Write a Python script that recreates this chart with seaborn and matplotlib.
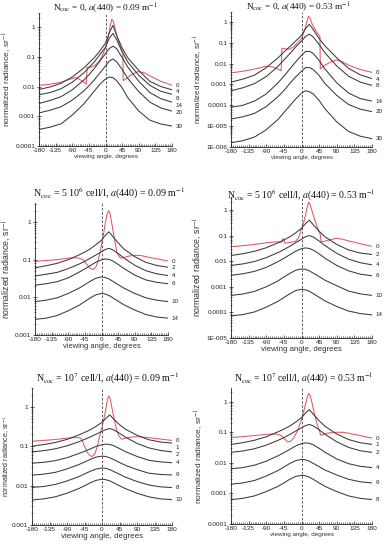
import numpy as np
import seaborn as sns
import matplotlib
matplotlib.use("Agg")
import matplotlib.pyplot as plt
from matplotlib.ticker import FixedLocator, FixedFormatter, MultipleLocator, LogLocator, NullFormatter

# angles where the black curves were read
ANG = [-180, -150, -120, -90, -60, -45, -30, -15, 0, 10, 20, 30, 45, 60, 90, 120, 150, 180]

# panel 1: Ncoc = 0, a = 0.09
p1_red_ang = [-180, -150, -120, -95, -80, -65, -55, -52, -50, -40, -30, -20, -10, 0, 5, 10, 14, 17, 21, 26,
              32, 40, 47, 48, 55, 70, 88, 105, 120, 150, 180]
p1_red = [0.011, 0.012, 0.014, 0.018, 0.02, 0.016, 0.013, 0.012, 0.045, 0.045, 0.05, 0.065, 0.1, 0.2, 0.35, 0.7,
          1.3, 1.85, 1.6, 0.9, 0.45, 0.22, 0.13, 0.016, 0.018, 0.025, 0.032, 0.029, 0.023, 0.015, 0.0112]
p1_b4 = [0.008, 0.0097, 0.013, 0.021, 0.041, 0.062, 0.095, 0.16, 0.29, 0.63, 1.15, 0.54, 0.2, 0.094, 0.035, 0.015, 0.01, 0.0078]
p1_b8 = [0.0053, 0.0063, 0.0085, 0.014, 0.028, 0.043, 0.069, 0.12, 0.21, 0.42, 0.62, 0.38, 0.15, 0.068, 0.024, 0.011, 0.0069, 0.0055]
p1_b14 = [0.0027, 0.0034, 0.0046, 0.0078, 0.016, 0.025, 0.041, 0.072, 0.13, 0.19, 0.23, 0.19, 0.096, 0.046, 0.015, 0.0063, 0.0039, 0.003]
p1_b20 = [0.0013, 0.0016, 0.0021, 0.0035, 0.0069, 0.0105, 0.017, 0.029, 0.049, 0.072, 0.085, 0.069, 0.038, 0.019, 0.0068, 0.003, 0.0019, 0.0015]
p1_b30 = [0.00036, 0.00043, 0.00056, 0.0011, 0.0025, 0.0042, 0.0072, 0.012, 0.018, 0.021, 0.02, 0.016, 0.0091, 0.0043, 0.0015, 0.00074, 0.00055, 0.00047]
p1_labels = ["0", "4", "8", "14", "20", "30"]

# panel 2: Ncoc = 0, a = 0.53
p2_red_ang = [-180, -150, -120, -90, -75, -60, -52, -50, -40, -30, -20, -10, 0, 5, 10, 14, 18, 22, 27, 34,
              42, 47, 48, 60, 75, 90, 105, 120, 150, 180]
p2_red = [0.0036, 0.0043, 0.0055, 0.0075, 0.007, 0.0055, 0.0045, 0.055, 0.05, 0.05, 0.065, 0.1, 0.16, 0.28, 0.55,
          1.1, 1.9, 1.5, 0.8, 0.45, 0.27, 0.2, 0.0055, 0.0085, 0.012, 0.015, 0.012, 0.0085, 0.0052, 0.0038]
p2_b4 = [0.0013, 0.0018, 0.0028, 0.0064, 0.019, 0.036, 0.065, 0.12, 0.23, 0.47, 0.77, 0.43, 0.16, 0.071, 0.019, 0.006, 0.0029, 0.0019]
p2_b8 = [0.0005, 0.00069, 0.0011, 0.0024, 0.0074, 0.015, 0.03, 0.062, 0.12, 0.2, 0.26, 0.19, 0.083, 0.033, 0.0077, 0.0025, 0.0013, 0.0009]
p2_b14 = [8e-5, 0.0001, 0.00016, 0.00035, 0.0012, 0.0025, 0.0055, 0.012, 0.025, 0.038, 0.039, 0.031, 0.014, 0.0055, 0.0012, 0.00039, 0.00021, 0.00016]
p2_b20 = [2.2e-5, 2.8e-5, 4.1e-5, 8.7e-5, 0.00026, 0.00051, 0.0011, 0.0023, 0.0043, 0.0064, 0.0065, 0.0052, 0.0027, 0.0011, 0.0003, 0.00011, 6.5e-5, 5e-5]
p2_b30 = [1.6e-6, 2e-6, 3e-6, 6.7e-6, 2.1e-5, 4.5e-5, 9.4e-5, 0.0002, 0.00038, 0.0005, 0.00045, 0.00035, 0.00017, 6.8e-5, 1.6e-5, 5.6e-6, 3.3e-6, 2.5e-6]
p2_labels = ["0", "4", "8", "14", "20", "30"]

# panel 3: Ncoc = 5e6, a = 0.09
p3_red_ang = [-180, -150, -120, -90, -70, -60, -50, -40, -30, -22, -15, -10, -5, 0, 5, 10, 15, 19, 23, 28,
              35, 42, 48, 52, 60, 75, 90, 105, 120, 150, 180]
p3_red = [0.09, 0.095, 0.1, 0.11, 0.112, 0.11, 0.1, 0.075, 0.058, 0.055, 0.065, 0.09, 0.14, 0.25, 0.45, 0.9,
          1.6, 2.0, 1.7, 0.9, 0.35, 0.15, 0.12, 0.11, 0.115, 0.125, 0.13, 0.13, 0.12, 0.105, 0.092]
p3_b2 = [0.061, 0.069, 0.08, 0.1, 0.135, 0.16, 0.195, 0.25, 0.33, 0.44, 0.55, 0.42, 0.28, 0.195, 0.12, 0.085, 0.07, 0.063]
p3_b4 = [0.037, 0.041, 0.046, 0.058, 0.077, 0.091, 0.11, 0.133, 0.162, 0.186, 0.2, 0.184, 0.146, 0.112, 0.071, 0.051, 0.042, 0.038]
p3_b6 = [0.021, 0.023, 0.026, 0.033, 0.047, 0.057, 0.07, 0.086, 0.1, 0.104, 0.102, 0.093, 0.075, 0.059, 0.039, 0.029, 0.025, 0.023]
p3_b10 = [0.0077, 0.0084, 0.0097, 0.0127, 0.0177, 0.0218, 0.0269, 0.0322, 0.035, 0.0337, 0.0308, 0.0269, 0.0218, 0.0177, 0.0127, 0.0097, 0.0084, 0.0077]
p3_b14 = [0.0026, 0.0028, 0.0033, 0.0044, 0.0062, 0.0078, 0.0097, 0.0117, 0.0127, 0.0122, 0.0112, 0.0098, 0.0079, 0.0064, 0.0046, 0.0035, 0.003, 0.0028]
p3_labels = ["0", "2", "4", "6", "10", "14"]

# panel 4: Ncoc = 5e6, a = 0.53
p4_red_ang = [-180, -150, -120, -90, -70, -55, -50, -48, -45, -42, -35, -25, -15, -8, -3, 0, 5, 10, 14, 18,
              22, 27, 33, 40, 46, 48, 50, 60, 75, 90, 105, 120, 150, 180]
p4_red = [0.037, 0.04, 0.045, 0.052, 0.056, 0.058, 0.055, 0.075, 0.07, 0.05, 0.052, 0.055, 0.06, 0.08, 0.13, 0.18,
          0.3, 0.6, 1.2, 2.0, 1.6, 0.9, 0.45, 0.22, 0.13, 0.11, 0.058, 0.06, 0.07, 0.078, 0.072, 0.062, 0.048, 0.038]
p4_b2 = [0.0166, 0.0195, 0.0243, 0.0334, 0.052, 0.067, 0.089, 0.127, 0.19, 0.29, 0.4, 0.265, 0.147, 0.0895, 0.045, 0.0275, 0.0208, 0.0182]
p4_b4 = [0.0068, 0.0078, 0.0097, 0.0137, 0.0216, 0.0283, 0.038, 0.0525, 0.072, 0.09, 0.1, 0.088, 0.061, 0.0406, 0.0202, 0.012, 0.0087, 0.0072]
p4_b6 = [0.0028, 0.0032, 0.004, 0.0057, 0.0096, 0.0129, 0.0177, 0.0244, 0.0307, 0.033, 0.0313, 0.027, 0.0193, 0.013, 0.0068, 0.0042, 0.0031, 0.0027]
p4_b10 = [0.00046, 0.00052, 0.00066, 0.001, 0.0017, 0.0024, 0.0033, 0.0044, 0.005, 0.0048, 0.0042, 0.0034, 0.0025, 0.0018, 0.0011, 0.00068, 0.00053, 0.00046]
p4_b14 = [7.3e-5, 8.2e-5, 0.000104, 0.00016, 0.00027, 0.00038, 0.00053, 0.00071, 0.0008, 0.00076, 0.00067, 0.00054, 0.00039, 0.00028, 0.00017, 0.000113, 9e-5, 8e-5]
p4_labels = ["0", "2", "4", "6", "10", "14"]

# panel 5: Ncoc = 1e7, a = 0.09
p5_red_ang = [-180, -150, -120, -90, -70, -58, -52, -45, -38, -30, -25, -18, -12, -6, 0, 5, 10, 14, 17, 21,
              26, 32, 38, 44, 48, 52, 60, 75, 90, 105, 120, 150, 180]
p5_red = [0.134, 0.14, 0.148, 0.16, 0.165, 0.165, 0.15, 0.1, 0.07, 0.057, 0.055, 0.065, 0.1, 0.18, 0.3, 0.5, 0.9,
          1.5, 1.9, 1.6, 0.9, 0.45, 0.25, 0.18, 0.16, 0.15, 0.16, 0.17, 0.175, 0.17, 0.165, 0.152, 0.14]
p5_b1 = [0.1, 0.11, 0.124, 0.149, 0.192, 0.223, 0.262, 0.32, 0.405, 0.51, 0.62, 0.49, 0.352, 0.27, 0.19, 0.146, 0.128, 0.12]
p5_b2 = [0.072, 0.077, 0.086, 0.102, 0.129, 0.148, 0.172, 0.202, 0.238, 0.265, 0.28, 0.26, 0.213, 0.17, 0.118, 0.091, 0.078, 0.072]
p5_b4 = [0.037, 0.039, 0.043, 0.051, 0.065, 0.074, 0.0855, 0.099, 0.109, 0.113, 0.11, 0.103, 0.087, 0.073, 0.055, 0.044, 0.04, 0.038]
p5_b6 = [0.0184, 0.0195, 0.0217, 0.0265, 0.034, 0.0396, 0.0463, 0.053, 0.056, 0.0547, 0.0509, 0.0457, 0.0386, 0.0328, 0.0255, 0.0207, 0.0192, 0.0186]
p5_b8 = [0.009, 0.0095, 0.0107, 0.0131, 0.0168, 0.0197, 0.0231, 0.0264, 0.028, 0.0274, 0.0255, 0.0229, 0.0194, 0.0164, 0.0127, 0.0104, 0.0093, 0.0089]
p5_b10 = [0.0043, 0.0046, 0.0052, 0.0064, 0.0084, 0.0099, 0.0118, 0.0136, 0.0145, 0.0141, 0.0132, 0.0118, 0.0099, 0.0084, 0.0064, 0.0052, 0.0046, 0.0044]
p5_labels = ["0", "1", "2", "4", "6", "8", "10"]

# panel 6: Ncoc = 1e7, a = 0.53
p6_red_ang = [-180, -150, -120, -90, -70, -58, -50, -42, -35, -28, -20, -12, -6, 0, 5, 10, 14, 18, 22, 27,
              33, 40, 46, 49, 55, 70, 90, 105, 120, 150, 180]
p6_red = [0.067, 0.072, 0.078, 0.085, 0.088, 0.085, 0.075, 0.058, 0.048, 0.05, 0.065, 0.1, 0.16, 0.25, 0.45, 0.8,
          1.3, 1.85, 1.6, 0.9, 0.4, 0.18, 0.11, 0.08, 0.085, 0.095, 0.1, 0.1, 0.093, 0.078, 0.064]
p6_b1 = [0.04, 0.0456, 0.0548, 0.0711, 0.103, 0.127, 0.16, 0.214, 0.3, 0.423, 0.55, 0.391, 0.238, 0.156, 0.0877, 0.0577, 0.0456, 0.04]
p6_b2 = [0.022, 0.0244, 0.0289, 0.0379, 0.0543, 0.067, 0.0843, 0.109, 0.14, 0.165, 0.18, 0.162, 0.121, 0.086, 0.0489, 0.032, 0.0249, 0.022]
p6_b4 = [0.0064, 0.007, 0.0084, 0.0113, 0.017, 0.0214, 0.0276, 0.0356, 0.0425, 0.045, 0.0434, 0.0387, 0.0299, 0.0222, 0.0134, 0.0094, 0.0077, 0.007]
p6_b6 = [0.002, 0.0022, 0.00265, 0.0037, 0.0056, 0.0073, 0.0095, 0.0118, 0.013, 0.0126, 0.0113, 0.0096, 0.0075, 0.0058, 0.004, 0.0029, 0.0024, 0.0022]
p6_b8 = [0.00063, 0.00069, 0.00083, 0.00115, 0.0017, 0.0022, 0.0029, 0.0036, 0.0039, 0.0038, 0.0034, 0.0029, 0.0022, 0.0017, 0.00115, 0.00083, 0.00069, 0.00063]
p6_labels = ["0", "1", "2", "4", "6", "8"]

titles = [
    r"N$_{\rm coc}$ = 0, $a$(440) = 0.09 m$^{-1}$",
    r"N$_{\rm coc}$ = 0, $a$(440) = 0.53 m$^{-1}$",
    r"N$_{\rm coc}$ = 5 10$^{6}$ cell/l, $a$(440) = 0.09 m$^{-1}$",
    r"N$_{\rm coc}$ = 5 10$^{6}$ cell/l, $a$(440) = 0.53 m$^{-1}$",
    r"N$_{\rm coc}$ = 10$^{7}$ cell/l, $a$(440) = 0.09 m$^{-1}$",
    r"N$_{\rm coc}$ = 10$^{7}$ cell/l, $a$(440) = 0.53 m$^{-1}$",
]

sns.set_style("ticks")
plt.rcParams["font.family"] = ["Liberation Sans", "DejaVu Sans"]
plt.rcParams["mathtext.fontset"] = "stix"
plt.rcParams["axes.unicode_minus"] = False

W, H = 384, 550
fig = plt.figure(figsize=(W / 100, H / 100), dpi=100)


def px_rect(x0, x1, y0, y1):
    return [x0 / W, 1 - y1 / H, (x1 - x0) / W, (y1 - y0) / H]


def ytick_text(v):
    if v >= 1e-4:
        return f"{v:g}"
    return "1E-%03d" % int(round(-np.log10(v)))


def curve_labels(ax, labels, ends, fs=4.5, minsep=6.8):
    # labels sit at the right end of each curve, pushed apart when they crowd
    disp = [ax.transData.transform((180, v))[1] for v in ends]
    order = sorted(range(len(ends)), key=lambda i: -disp[i])
    prev = None
    for i in order:
        y = disp[i]
        if prev is not None and y > prev - minsep:
            y = prev - minsep
        prev = y
        yd = ax.transData.inverted().transform((0, y))[1]
        ax.annotate(labels[i], xy=(180, yd), xytext=(2.5, 0), textcoords="offset points",
                    fontsize=fs, color="#222222", va="center", ha="left", annotation_clip=False)


def draw_panel(rect, red_ang, red, blacks, labels, ylo, yhi, title, tpos, t_fs, xl_fs, yl_fs, yl_pad=1.5):
    ax = fig.add_axes(rect)
    red_col = "#e0575f"
    blk_col = "#3a3a3a"
    sns.lineplot(x=red_ang, y=red, ax=ax, color=red_col, lw=0.75, estimator=None, sort=False)
    for b in blacks:
        sns.lineplot(x=ANG, y=b, ax=ax, color=blk_col, lw=0.75, estimator=None, sort=False)
    ax.axvline(0, color="#444444", lw=0.6, ls=(0, (3, 2)))
    ax.set_yscale("log")
    ax.set_xlim(-180, 180)
    ax.set_ylim(ylo, yhi)
    decs = [10.0 ** k for k in range(int(round(np.log10(ylo))), 1)]
    ax.yaxis.set_major_locator(FixedLocator(decs))
    ax.yaxis.set_major_formatter(FixedFormatter([ytick_text(d) for d in decs]))
    ax.yaxis.set_minor_locator(LogLocator(base=10, subs=np.arange(2, 10)))
    ax.yaxis.set_minor_formatter(NullFormatter())
    ax.xaxis.set_major_locator(MultipleLocator(45))
    ax.xaxis.set_minor_locator(MultipleLocator(5))
    ax.tick_params(axis="both", which="major", labelsize=4.6, length=2.2, width=0.5,
                   colors="#222222", pad=1.5)
    ax.tick_params(axis="both", which="minor", length=1.2, width=0.4, colors="#222222")
    ax.tick_params(axis="x", which="both", direction="in")
    ax.tick_params(axis="y", which="both", direction="inout")
    for s in ["top", "right"]:
        ax.spines[s].set_visible(False)
    for s in ["left", "bottom"]:
        ax.spines[s].set_linewidth(0.6)
        ax.spines[s].set_color("#222222")
    ax.set_xlabel("viewing angle, degrees", fontsize=xl_fs, color="#333333", labelpad=0.5)
    ax.set_ylabel("normalized radiance, sr$^{-1}$", fontsize=yl_fs, color="#333333", labelpad=yl_pad)
    curve_labels(ax, labels, [red[-1]] + [b[-1] for b in blacks])
    fig.text(tpos[0] / W, 1 - tpos[1] / H, title, fontsize=t_fs, ha="center", va="center",
             family=["Liberation Serif", "DejaVu Serif"], color="#111111")
    return ax


draw_panel(px_rect(39, 172, 13, 146), p1_red_ang, p1_red, [p1_b4, p1_b8, p1_b14, p1_b20, p1_b30],
           p1_labels, 1e-4, 3, titles[0], (105, 8), 6.7, 4.5, 6.0)
draw_panel(px_rect(231, 372, 12, 147), p2_red_ang, p2_red, [p2_b4, p2_b8, p2_b14, p2_b20, p2_b30],
           p2_labels, 1e-6, 3, titles[1], (298, 7), 6.7, 4.3, 5.7)
draw_panel(px_rect(35, 168, 203, 335), p3_red_ang, p3_red, [p3_b2, p3_b4, p3_b6, p3_b10, p3_b14],
           p3_labels, 1e-3, 3.2, titles[2], (109, 193), 7.2, 5.4, 6.3)
draw_panel(px_rect(231, 372, 197, 338), p4_red_ang, p4_red, [p4_b2, p4_b4, p4_b6, p4_b10, p4_b14],
           p4_labels, 1e-5, 3.2, titles[3], (301, 195), 7.0, 5.7, 6.3)
draw_panel(px_rect(32, 172, 388, 525), p5_red_ang, p5_red, [p5_b1, p5_b2, p5_b4, p5_b6, p5_b8, p5_b10],
           p5_labels, 1e-3, 3, titles[4], (108, 378), 7.1, 5.8, 5.1, 0.2)
draw_panel(px_rect(231, 372, 388, 524), p6_red_ang, p6_red, [p6_b1, p6_b2, p6_b4, p6_b6, p6_b8],
           p6_labels, 1e-4, 2.8, titles[5], (304, 378), 6.9, 4.5, 6.0)

fig.savefig("out.png", dpi=100)
